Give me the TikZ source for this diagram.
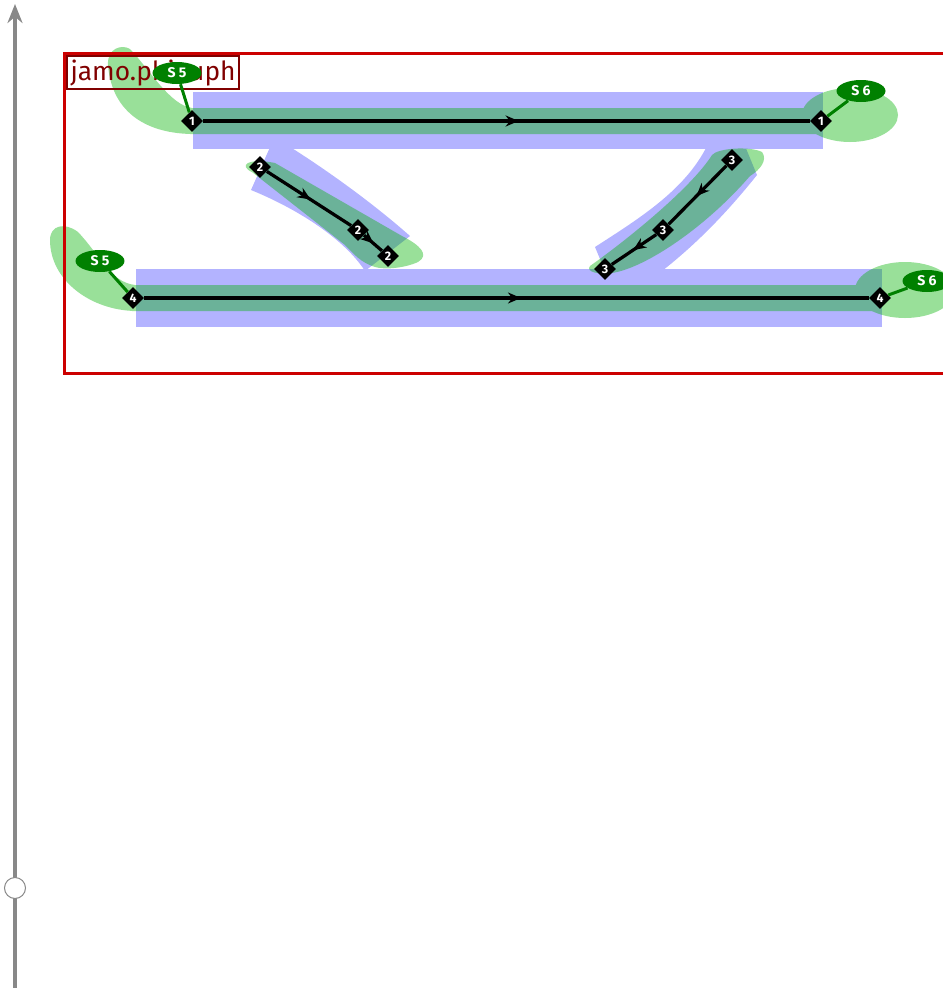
\documentclass[tikz,border=0pt]{standalone}
\usepackage{fontspec}
\setsansfont{Fira Sans}
\usetikzlibrary{arrows.meta,shapes.geometric,decorations.markings}
\definecolor{outlineblue}{RGB}{179,179,255}
\definecolor{inkgreen}{RGB}{0,178,0}
\definecolor{labelgreen}{RGB}{0,128,0}
\definecolor{framered}{RGB}{204,0,0}
\definecolor{titlered}{RGB}{128,0,0}
\definecolor{axisgray}{RGB}{136,136,136}
\begin{document}
\begin{tikzpicture}[x=0.02cm,y=-0.02cm,font=\sffamily,
  pt/.style={diamond,fill=black,inner sep=0pt,minimum size=0.44cm,
    text=white,font=\sffamily\bfseries\fontsize{7}{7}\selectfont},
  tag/.style={ellipse,fill=labelgreen,inner sep=0pt,minimum width=0.98cm,
    minimum height=0.44cm,text=white,font=\sffamily\bfseries\fontsize{8}{8}\selectfont},
  stroke/.style={line width=0.065cm,postaction={decorate},
    decoration={markings,mark=at position 0.52 with {\arrow{Stealth[length=0.26cm,width=0.22cm]}}}},
  tagline/.style={labelgreen,line width=0.06cm}]
  \useasboundingbox (0,0) rectangle (943,988);
  \clip (0,0) rectangle (943,988);
  % outline (blue)
  \fill[outlineblue] (193,92) rectangle (823,149);
  \fill[outlineblue] (136,269) rectangle (882,327);
  \fill[outlineblue] (251,190) -- (271,145) -- (287,145) .. controls (330,172) and (375,205) .. (410,236)
    -- (365,271) .. controls (345,240) and (300,210) .. (251,190) -- cycle;
  \fill[outlineblue] (595,247) .. controls (640,218) and (685,190) .. (707,146) -- (745,146) -- (757,175)
    .. controls (725,215) and (695,245) .. (662,271) -- (605,271) -- cycle;
  % ink (green)
  \begin{scope}[transparency group,opacity=0.4]
    \fill[inkgreen] (190,108) rectangle (822,134);
    \fill[inkgreen] (194,134) .. controls (150,134) and (112,115) .. (108,65)
      .. controls (107,48) and (122,44) .. (130,49) .. controls (150,70) and (170,105) .. (192,108) -- cycle;
    \fill[inkgreen] (850,115) ellipse[x radius=48,y radius=27];
    \fill[inkgreen] (132,285) rectangle (880,311);
    \fill[inkgreen] (135,311) .. controls (90,310) and (50,280) .. (50,240)
      .. controls (50,225) and (65,222) .. (78,232) .. controls (100,255) and (110,282) .. (135,285) -- cycle;
    \fill[inkgreen] (905,290) ellipse[x radius=50,y radius=28];
    \fill[inkgreen] (248,163) .. controls (255,160) and (265,161) .. (275,163) -- (402,236)
      .. controls (420,245) and (430,255) .. (418,262) .. controls (405,268) and (385,270) .. (375,267)
      .. controls (360,262) and (355,255) .. (345,245) -- (252,172) .. controls (245,169) and (244,165) .. (248,163) -- cycle;
    \fill[inkgreen] (590,266) .. controls (620,245) and (690,190) .. (712,155)
      .. controls (718,148) and (750,146) .. (762,152) .. controls (768,160) and (760,170) .. (750,176)
      .. controls (705,228) and (645,268) .. (612,273) .. controls (600,275) and (585,272) .. (590,266) -- cycle;
  \end{scope}
  % frame and title
  \draw[framered,line width=0.06cm] (64,53) rectangle (990,373);
  \node[draw=titlered,line width=0.04cm,text=titlered,anchor=north west,inner sep=2pt,
    minimum height=0.64cm,font=\sffamily\fontsize{15}{16}\selectfont] (title) at (66,55) {jamo.phieuph};
  % points
  \node[pt] (p1a) at (192,121) {1};
  \node[pt] (p1b) at (821,121) {1};
  \node[pt] (p2a) at (260,167) {2};
  \node[pt] (p2b) at (358,230) {2};
  \node[pt] (p2c) at (388,256) {2};
  \node[pt] (p3a) at (732,160) {3};
  \node[pt] (p3b) at (663,230) {3};
  \node[pt] (p3c) at (605,269) {3};
  \node[pt] (p4a) at (133,298) {4};
  \node[pt] (p4b) at (880,298) {4};
  \draw[stroke] (p1a) -- (p1b);
  \draw[stroke] (p2a) -- (p2b);
  \draw[stroke] (p2b) -- (p2c);
  \draw[stroke] (p3a) -- (p3b);
  \draw[stroke] (p3b) -- (p3c);
  \draw[stroke] (p4a) -- (p4b);
  % labels
  \node[tag] (s5top) at (177,73) {S 5};
  \node[tag] (s6top) at (861,91) {S 6};
  \node[tag] (s5bot) at (100,261) {S 5};
  \node[tag] (s6bot) at (927,281) {S 6};
  \draw[tagline] (s5top) -- (p1a);
  \draw[tagline] (s6top) -- (p1b);
  \draw[tagline] (s5bot) -- (p4a);
  \draw[tagline] (s6bot) -- (p4b);
  % axis
  \coordinate (axisbot) at (15,988);
  \coordinate (axistop) at (15,4);
  \draw[axisgray,line width=0.09cm,-{Stealth[length=0.38cm,width=0.3cm]}] (axisbot) -- (axistop);
  \node[circle,draw=axisgray,fill=white,line width=0.02cm,minimum size=0.42cm,inner sep=0pt] (knob) at (15,888) {};
\end{tikzpicture}
\end{document}
